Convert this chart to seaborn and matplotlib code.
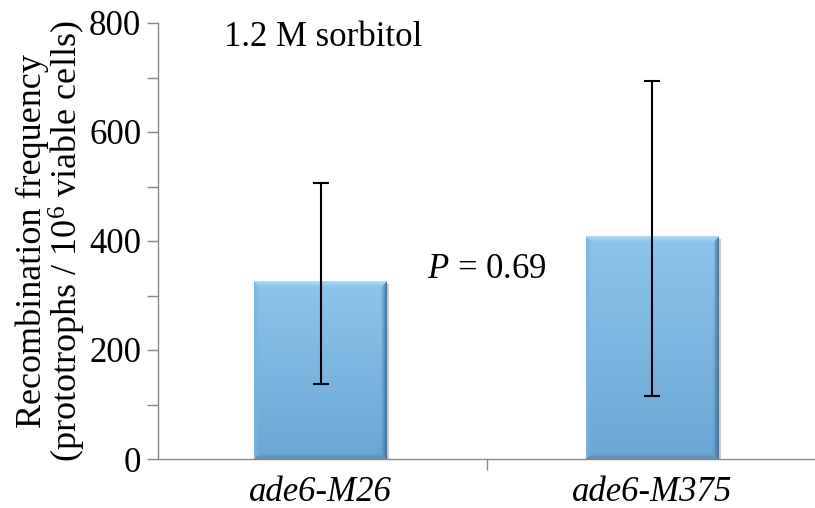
import numpy as np
import pandas as pd
import matplotlib
matplotlib.use("Agg")
import matplotlib.pyplot as plt
import seaborn as sns
from matplotlib.ticker import MultipleLocator, FixedLocator

strains = ["ade6-M26", "ade6-M375"]
means = [325, 408]
err_low = [138, 116]
err_high = [506, 693]
annotation = "1.2 M sorbitol"
pvalue_text = "$\\it{P}$ = 0.69"

sns.set_theme(style="white")
plt.rcParams["font.family"] = ["Liberation Serif", "DejaVu Serif"]
plt.rcParams["mathtext.fontset"] = "custom"
plt.rcParams["mathtext.rm"] = "Liberation Serif"
plt.rcParams["mathtext.it"] = "Liberation Serif:italic"
plt.rcParams["text.color"] = "black"
plt.rcParams["axes.labelcolor"] = "black"

df = pd.DataFrame({"strain": strains, "freq": means})

fig = plt.figure(figsize=(8.15, 5.08), dpi=100)
ax = fig.add_axes([158/815, 1-459/508, (815-158)/815, (459-23)/508])

sns.barplot(data=df, x="strain", y="freq", color="#80BBE3", width=0.4,
            saturation=1, ax=ax, edgecolor="none", linewidth=0, errorbar=None)

ax.set_ylim(0, 800)
ax.set_xlim(-0.49, 1.49)

# beveled gradient overlay, computed in pixel units
fig.canvas.draw()
top = np.array([140, 198, 236]) / 255
bot = np.array([106, 166, 212]) / 255
c_top = np.array([178, 218, 242]) / 255
c_left = np.array([118, 180, 226]) / 255
c_right = np.array([62, 112, 160]) / 255
c_bot = np.array([88, 138, 180]) / 255
for p in list(ax.patches):
    x0, y0 = p.get_x(), p.get_y()
    w, h = p.get_width(), p.get_height()
    (px0, py0), (px1, py1) = ax.transData.transform([(x0, y0), (x0 + w, y0 + h)])
    W, H = int(round(px1 - px0)), int(round(py1 - py0))
    X, Y = np.meshgrid(np.arange(W) + 0.5, np.arange(H) + 0.5)  # Y from top
    base = top[None, None, :] * (1 - Y[..., None] / H) + bot[None, None, :] * (Y[..., None] / H)
    d = np.stack([Y, X, W - X, H - Y])  # top, left, right, bottom
    idx = np.argmin(d, axis=0)
    dmin = np.min(d, axis=0)
    b = 6.0
    f = np.clip(1 - dmin / b, 0, 1)[..., None]
    cols = np.stack([c_top, c_left, c_right, c_bot])
    ec = cols[idx]
    img = base * (1 - f) + ec * f
    ax.imshow(img, extent=[x0, x0 + w, y0, y0 + h], origin="upper",
              aspect="auto", zorder=p.get_zorder() + 0.1, interpolation="bilinear")
    ax.add_patch(plt.Rectangle((x0 + w, y0), 0.006, h * 0.99, color="#c8c8c8",
                               zorder=p.get_zorder() - 0.1, lw=0))
ax.set_xlim(-0.49, 1.49)
ax.set_ylim(0, 800)

xs = np.arange(len(strains))
yerr = [np.array(means) - np.array(err_low), np.array(err_high) - np.array(means)]
ax.errorbar(xs, means, yerr=yerr, fmt="none", ecolor="black", elinewidth=1.5,
            capsize=6, capthick=1.5, zorder=5)

ax.yaxis.set_major_locator(MultipleLocator(200))
ax.yaxis.set_minor_locator(MultipleLocator(100))
ax.xaxis.set_minor_locator(FixedLocator([0.5]))
ax.tick_params(axis="y", which="both", direction="out", length=8, width=1,
               color="#888888", labelcolor="black", left=True, labelsize=25, pad=4)
ax.tick_params(axis="x", which="major", bottom=False, labelsize=25, pad=6,
               labelcolor="black")
ax.tick_params(axis="x", which="minor", bottom=True, direction="out", length=8,
               width=1, color="#888888")
for lab in ax.get_xticklabels():
    lab.set_fontstyle("italic")
for s in ["top", "right"]:
    ax.spines[s].set_visible(False)
for s in ["left", "bottom"]:
    ax.spines[s].set_color("#888888")
    ax.spines[s].set_linewidth(1)
ax.set_xlabel("")
ax.set_ylabel("Recombination frequency\n(prototrophs / $10^6$ viable cells)",
              fontsize=26, linespacing=0.92, labelpad=1)

ax.text(-0.29, 774, annotation, fontsize=25, va="center", ha="left")
ax.text(0.5, 347, pvalue_text, fontsize=25, va="center", ha="center")

fig.savefig("out.png", dpi=100)
